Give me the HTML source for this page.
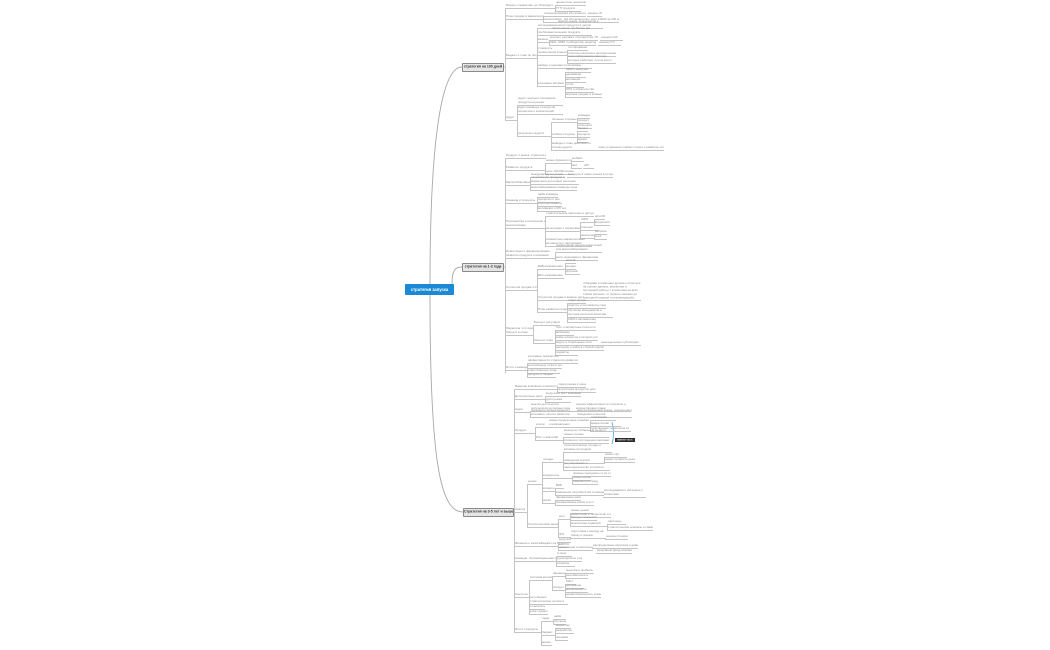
<!DOCTYPE html>
<html><head><meta charset="utf-8"><style>
html,body{margin:0;padding:0;background:#fff;width:1050px;height:650px;overflow:hidden;position:relative;font-family:"Liberation Sans",sans-serif}
i{position:absolute;height:4px;border-bottom:1px solid #c4c4c4;font-style:normal;overflow:hidden;padding-left:1px;box-sizing:content-box}
i.t{height:8px}
s{display:block;text-decoration:none;font:6px/7.6px "Liberation Sans",sans-serif;color:#8a8a8a;white-space:nowrap;transform:scale(.5);transform-origin:0 0;width:200%}
i.t s{white-space:normal;line-height:7.8px}
b{position:absolute;width:1px;background:#c4c4c4}
.box{position:absolute;border:1px solid #8a8a8a;background:#e6e6e6;border-radius:1px;overflow:hidden}
.box s{font:bold 7px/12px "Liberation Sans",sans-serif;color:#333;text-align:center}
.root{position:absolute;left:405px;top:284px;width:49px;height:11px;background:#1b8ad6;border-radius:1px;overflow:hidden}
.root s{font:bold 8.4px/22px "Liberation Sans",sans-serif;color:#fff;text-align:center}
.blk{position:absolute;border-bottom:1px solid #c4c4c4;overflow:hidden}
.blk s{white-space:normal;line-height:7.2px}
</style></head><body>
<svg width="1050" height="650" style="position:absolute;left:0;top:0">
<g fill="none" stroke="#a8a8a8" stroke-width="0.9">
<path d="M430,284 C430,150 440,67 462,67"/>
<path d="M452,284 C452,270 455,267 462,267"/>
<path d="M430,295 C430,460 440,512 463,512"/>
<path d="M612,422 Q615,433 612,444" stroke="#5ab0e8"/>
</g>
<g stroke="#c4c4c4" stroke-width="1"><line x1="502" y1="67" x2="505" y2="67"/><line x1="502" y1="267" x2="505" y2="267"/><line x1="512" y1="512" x2="514" y2="512"/></g>
</svg>
<div class="root"><s>стратегия запуска</s></div>
<div class="box" style="left:462px;top:63px;width:40px;height:7px"><s>стратегия на 100 дней</s></div>
<div class="box" style="left:462px;top:263px;width:40px;height:7px"><s>стратегия на 1-3 года</s></div>
<div class="box" style="left:463px;top:508px;width:49px;height:7px"><s>Стратегия на 3-5 лет и выше</s></div>
<div style="position:absolute;left:615px;top:438px;width:20px;height:4px;background:#2b2b2b;overflow:hidden"><s style="color:#fff;font-size:5px;line-height:8px;text-align:center">важная часть</s></div>

<!-- BRANCH 1 -->
<b style="left:505px;top:8px;height:113px"></b>
<i style="left:505px;top:4px;width:36px"><s>Бизнес и маркетинг до 100 дней</s></i>
<i style="left:541px;top:4px;width:14px"><s>продукт</s></i>
<b style="left:555px;top:5px;height:7px"></b>
<i style="left:555px;top:1px;width:30px"><s>ценностное предложение</s></i>
<i style="left:555px;top:7px;width:25px"><s>УТП продукта</s></i>
<i style="left:505px;top:15px;width:38px"><s>План продаж и маркетинговый план</s></i>
<b style="left:543px;top:16px;height:7px"></b>
<i style="left:543px;top:12px;width:20px"><s>позиционирование</s></i>
<i style="left:563px;top:12px;width:22px"><s>ЦА 20 сегментов</s></i>
<i style="left:587px;top:12px;width:14px"><s>каналы 30</s></i>
<i style="left:543px;top:18px;width:20px"><s>сегментация</s></i>
<i style="left:563px;top:18px;width:26px"><s>ЦА 30 сегментов клиентов</s></i>
<i style="left:590px;top:18px;width:28px"><s>рост 10000 за 100 дней</s></i>
<i style="left:505px;top:54px;width:32px"><s>Бюджет и план по продажам</s></i>
<b style="left:537px;top:28px;height:59px"></b>
<i style="left:537px;top:24px;width:20px"><s>исследование</s></i>
<i class="t" style="left:557px;top:20px;width:45px"><s>анализ рынка, конкурентов и ниши продукта в целом</s></i>
<i style="left:537px;top:31px;width:14px"><s>проблемы</s></i>
<i class="t" style="left:551px;top:27px;width:40px"><s>обоснование проблемы ЦА и решения продукта</s></i>
<i style="left:537px;top:38px;width:12px"><s>каналы</s></i>
<b style="left:549px;top:40px;height:6px"></b>
<i style="left:549px;top:36px;width:48px"><s>контент, реклама, партнерства, PR, email</s></i>
<i style="left:600px;top:36px;width:22px"><s>оценка CAC</s></i>
<i style="left:549px;top:41px;width:46px"><s>SEO, SMM, сообщества, мероприятия</s></i>
<i style="left:598px;top:41px;width:22px"><s>оценка LTV</s></i>
<i class="t" style="left:537px;top:47px;width:30px"><s>стоимость привлечения клиента и бюджет</s></i>
<b style="left:567px;top:50px;height:14px"></b>
<i style="left:567px;top:46px;width:20px"><s>тестирование</s></i>
<i style="left:567px;top:52px;width:48px"><s>гипотезы каналов и метрики конверсии</s></i>
<i class="t" style="left:567px;top:55px;width:48px"><s>масштабирование каналов, которые работают лучше всего</s></i>
<i style="left:537px;top:64px;width:32px"><s>оффер и ценовая политика</s></i>
<i style="left:569px;top:64px;width:22px"><s>тарифы</s></i>
<i style="left:537px;top:82px;width:28px"><s>ключевые метрики</s></i>
<b style="left:565px;top:72px;height:26px"></b>
<i style="left:565px;top:68px;width:25px"><s>MRR и выручка</s></i>
<i style="left:565px;top:73px;width:20px"><s>удержание</s></i>
<i style="left:565px;top:78px;width:20px"><s>активация</s></i>
<i style="left:565px;top:83px;width:18px"><s>отток</s></i>
<i style="left:565px;top:88px;width:28px"><s>NPS и обратная связь</s></i>
<i style="left:565px;top:93px;width:36px"><s>воронка продаж и конверсия</s></i>
<i style="left:505px;top:116px;width:12px"><s>Аудит</s></i>
<b style="left:517px;top:105px;height:32px"></b>
<i class="t" style="left:517px;top:97px;width:45px"><s>аудит текущего положения продукта на рынке</s></i>
<i class="t" style="left:517px;top:106px;width:45px"><s>аудит команды и ресурсов, процессов и компетенций</s></i>
<i style="left:517px;top:132px;width:34px"><s>результаты аудита</s></i>
<b style="left:551px;top:122px;height:29px"></b>
<i style="left:551px;top:118px;width:26px"><s>сильные стороны</s></i>
<b style="left:577px;top:118px;height:11px"></b>
<i style="left:577px;top:114px;width:12px"><s>команда</s></i>
<i style="left:577px;top:119px;width:12px"><s>продукт</s></i>
<i style="left:577px;top:124px;width:14px"><s>технология</s></i>
<i style="left:551px;top:133px;width:26px"><s>слабые стороны</s></i>
<b style="left:577px;top:131px;height:12px"></b>
<i style="left:577px;top:127px;width:10px"><s>бюджет</s></i>
<i style="left:577px;top:133px;width:12px"><s>процессы</s></i>
<i style="left:577px;top:138px;width:10px"><s>время</s></i>
<i class="t" style="left:551px;top:142px;width:46px"><s>выводы и план действий по итогам аудита</s></i>
<i style="left:597px;top:146px;width:66px"><s>план устранения слабых сторон и развитие сильных</s></i>

<!-- BRANCH 2 -->
<b style="left:505px;top:158px;height:215px"></b>
<i style="left:505px;top:154px;width:40px"><s>Продукт и рынок: стратегия роста</s></i>
<i style="left:505px;top:166px;width:40px"><s>Развитие продукта</s></i>
<b style="left:545px;top:163px;height:12px"></b>
<i style="left:545px;top:159px;width:26px"><s>новые функции продукта</s></i>
<b style="left:571px;top:161px;height:8px"></b>
<i style="left:571px;top:157px;width:12px"><s>мобайл</s></i>
<i style="left:571px;top:164px;width:10px"><s>веб</s></i>
<i style="left:583px;top:164px;width:10px"><s>API</s></i>
<i style="left:545px;top:170px;width:28px"><s>цель 100 000 клиентов</s></i>
<i style="left:505px;top:181px;width:25px"><s>Масштабирование</s></i>
<b style="left:530px;top:177px;height:14px"></b>
<i style="left:530px;top:173px;width:34px"><s>международные рынки</s></i>
<i style="left:567px;top:173px;width:45px"><s>выход на 3 новых рынка в течение года</s></i>
<i class="t" style="left:530px;top:176px;width:48px"><s>локализация продукта и маркетинга для новых регионов</s></i>
<i style="left:530px;top:186px;width:46px"><s>масштабирование команды продаж и поддержки</s></i>
<i style="left:505px;top:199px;width:32px"><s>Команда и процессы</s></i>
<b style="left:537px;top:197px;height:15px"></b>
<i style="left:537px;top:193px;width:20px"><s>найм команды</s></i>
<i style="left:537px;top:198px;width:22px"><s>процессы и регламенты</s></i>
<i style="left:537px;top:202px;width:24px"><s>корпоративная культура</s></i>
<i style="left:537px;top:207px;width:28px"><s>мотивация и KPI команды</s></i>
<i class="t" style="left:505px;top:220px;width:40px"><s>Партнерства и интеграции с экосистемами</s></i>
<b style="left:545px;top:216px;height:31px"></b>
<i style="left:545px;top:212px;width:48px"><s>стратегические партнеры и дистрибуция продукта</s></i>
<i style="left:545px;top:227px;width:35px"><s>интеграции с сервисами</s></i>
<b style="left:580px;top:222px;height:17px"></b>
<i style="left:580px;top:218px;width:14px"><s>CRM</s></i>
<b style="left:594px;top:219px;height:7px"></b>
<i style="left:594px;top:215px;width:10px"><s>amoCRM</s></i>
<i style="left:594px;top:221px;width:15px"><s>Битрикс24</s></i>
<i style="left:580px;top:226px;width:18px"><s>платежи</s></i>
<i style="left:580px;top:234px;width:14px"><s>аналитика</s></i>
<b style="left:594px;top:234px;height:6px"></b>
<i style="left:594px;top:230px;width:12px"><s>метрика</s></i>
<i style="left:594px;top:235px;width:12px"><s>GA4</s></i>
<i class="t" style="left:545px;top:238px;width:46px"><s>совместные маркетинговые активности с партнерами</s></i>
<i class="t" style="left:505px;top:250px;width:50px"><s>Инвестиции и финансирование развития продукта и компании</s></i>
<b style="left:555px;top:252px;height:9px"></b>
<i class="t" style="left:555px;top:244px;width:46px"><s>привлечение раунда инвестиций для масштабирования</s></i>
<i style="left:555px;top:256px;width:42px"><s>юнит-экономика и финансовая модель</s></i>
<i style="left:505px;top:286px;width:32px"><s>Стратегия продаж 1-3 года</s></i>
<b style="left:537px;top:269px;height:44px"></b>
<i style="left:537px;top:265px;width:28px"><s>B2B направление</s></i>
<b style="left:565px;top:263px;height:12px"></b>
<i style="left:565px;top:259px;width:10px"><s>малый</s></i>
<i style="left:565px;top:265px;width:10px"><s>средний</s></i>
<i style="left:565px;top:270px;width:14px"><s>крупный</s></i>
<i style="left:537px;top:274px;width:26px"><s>B2C направление</s></i>
<i style="left:537px;top:296px;width:46px"><s>Стратегия продаж и каналы дистрибуции</s></i>
<div class="blk" style="left:583px;top:282px;width:58px;height:18px"><s>«Продажи в компании должны строиться на основе данных, аналитики и системной работы с клиентами на всех этапах воронки, от первого касания до повторной покупки и рекомендаций»</s></div>
<i style="left:537px;top:308px;width:30px"><s>План развития продаж</s></i>
<b style="left:567px;top:303px;height:20px"></b>
<i style="left:567px;top:299px;width:18px"><s>отдел продаж</s></i>
<i style="left:567px;top:304px;width:38px"><s>скрипты и регламенты продаж</s></i>
<i class="t" style="left:567px;top:309px;width:45px"><s>обучение менеджеров и система контроля качества продаж</s></i>
<i style="left:567px;top:318px;width:28px"><s>CRM и автоматизация</s></i>
<i class="t" style="left:505px;top:327px;width:28px"><s>Маркетинг 1-3 года: бренд и контент</s></i>
<b style="left:533px;top:325px;height:19px"></b>
<i style="left:533px;top:321px;width:26px"><s>Бренд и репутация</s></i>
<i style="left:533px;top:339px;width:22px"><s>Контент-план</s></i>
<b style="left:555px;top:330px;height:26px"></b>
<i style="left:555px;top:326px;width:40px"><s>блог и экспертные статьи по теме</s></i>
<i style="left:555px;top:331px;width:18px"><s>вебинары</s></i>
<i style="left:555px;top:336px;width:42px"><s>кейсы клиентов и истории успеха</s></i>
<i style="left:555px;top:341px;width:45px"><s>видео и социальные сети</s></i>
<i style="left:600px;top:341px;width:40px"><s>еженедельные публикации</s></i>
<i style="left:555px;top:346px;width:48px"><s>рассылки и работа с базой подписчиков</s></i>
<i style="left:555px;top:351px;width:22px"><s>подкасты</s></i>
<i style="left:505px;top:366px;width:22px"><s>Итоги и выводы</s></i>
<b style="left:527px;top:363px;height:15px"></b>
<i class="t" style="left:527px;top:355px;width:50px"><s>ключевые показатели эффективности стратегии развития</s></i>
<i style="left:527px;top:364px;width:34px"><s>контрольные точки и сроки</s></i>
<i style="left:527px;top:369px;width:32px"><s>ответственные лица</s></i>
<i style="left:527px;top:373px;width:28px"><s>ресурсы и бюджет</s></i>

<!-- BRANCH 3 -->
<b style="left:514px;top:389px;height:244px"></b>
<i style="left:514px;top:385px;width:43px"><s>Видение компании и миссия продукта</s></i>
<b style="left:557px;top:387px;height:6px"></b>
<i style="left:557px;top:383px;width:28px"><s>лидер рынка в нише</s></i>
<i style="left:557px;top:388px;width:38px"><s>экосистема продуктов для клиентов</s></i>
<i style="left:514px;top:395px;width:31px"><s>Долгосрочные цели</s></i>
<b style="left:545px;top:396px;height:7px"></b>
<i style="left:545px;top:392px;width:35px"><s>выручка и рост компании</s></i>
<i style="left:545px;top:398px;width:25px"><s>доля рынка</s></i>
<i style="left:514px;top:408px;width:16px"><s>Аудит</s></i>
<b style="left:530px;top:411px;height:7px"></b>
<i class="t" style="left:530px;top:403px;width:45px"><s>анализ достигнутых результатов за первые годы работы</s></i>
<i class="t" style="left:575px;top:403px;width:55px"><s>оценка эффективности стратегии и корректировка плана</s></i>
<i class="t" style="left:530px;top:409px;width:46px"><s>пересмотр бизнес-модели и ключевых гипотез развития</s></i>
<i class="t" style="left:576px;top:409px;width:55px"><s>анализ изменений рынка, технологий и поведения клиентов</s></i>
<i style="left:514px;top:429px;width:21px"><s>Продукт</s></i>
<b style="left:535px;top:427px;height:14px"></b>
<i style="left:535px;top:423px;width:13px"><s>ключи</s></i>
<i class="t" style="left:548px;top:419px;width:42px"><s>новые продуктовые линейки и направления</s></i>
<b style="left:590px;top:420px;height:12px"></b>
<i style="left:590px;top:416px;width:25px"><s>платформа</s></i>
<i style="left:590px;top:422px;width:30px"><s>маркетплейс</s></i>
<i style="left:590px;top:427px;width:40px"><s>собственная технология AI</s></i>
<i style="left:535px;top:436px;width:28px"><s>Рост и масштаб</s></i>
<b style="left:563px;top:437px;height:7px"></b>
<i class="t" style="left:563px;top:429px;width:45px"><s>выход на глобальный рынок и новые страны</s></i>
<i style="left:563px;top:439px;width:45px"><s>слияния и поглощения компаний</s></i>
<i style="left:514px;top:508px;width:13px"><s>Анализ</s></i>
<b style="left:527px;top:484px;height:44px"></b>
<i style="left:527px;top:480px;width:15px"><s>рынок</s></i>
<b style="left:542px;top:462px;height:42px"></b>
<i style="left:542px;top:458px;width:21px"><s>тренды</s></i>
<b style="left:563px;top:452px;height:19px"></b>
<i class="t" style="left:563px;top:444px;width:48px"><s>технологические тренды и влияние на продукт</s></i>
<i style="left:563px;top:459px;width:41px"><s>изменения спроса</s></i>
<b style="left:604px;top:457px;height:6px"></b>
<i style="left:604px;top:453px;width:22px"><s>новые ЦА</s></i>
<i style="left:604px;top:458px;width:30px"><s>новые сегменты рынка</s></i>
<i class="t" style="left:563px;top:462px;width:46px"><s>регулирование и законодательство в отрасли</s></i>
<i style="left:542px;top:474px;width:30px"><s>конкуренты</s></i>
<b style="left:572px;top:476px;height:9px"></b>
<i style="left:572px;top:472px;width:38px"><s>прямые конкуренты и их стратегии</s></i>
<i style="left:572px;top:476px;width:18px"><s>новые игроки</s></i>
<i style="left:572px;top:480px;width:25px"><s>заменители продукта</s></i>
<i style="left:542px;top:487px;width:13px"><s>клиенты</s></i>
<b style="left:555px;top:488px;height:8px"></b>
<i style="left:555px;top:484px;width:8px"><s>B2B</s></i>
<i style="left:555px;top:491px;width:48px"><s>изменения потребностей и поведения клиентов</s></i>
<i class="t" style="left:603px;top:489px;width:42px"><s>исследования и интервью с клиентами</s></i>
<i style="left:542px;top:499px;width:13px"><s>риски</s></i>
<b style="left:555px;top:500px;height:6px"></b>
<i style="left:555px;top:496px;width:25px"><s>финансовые риски</s></i>
<i style="left:555px;top:501px;width:38px"><s>операционные риски и их снижение</s></i>
<i style="left:527px;top:523px;width:31px"><s>Стратегические инициативы</s></i>
<b style="left:558px;top:519px;height:19px"></b>
<i style="left:558px;top:515px;width:12px"><s>рост</s></i>
<b style="left:570px;top:513px;height:14px"></b>
<i style="left:570px;top:509px;width:22px"><s>новые рынки</s></i>
<i style="left:570px;top:513px;width:40px"><s>инвестиции в технологии и инфраструктуру</s></i>
<i style="left:570px;top:516px;width:26px"><s>бренд и лояльность</s></i>
<i style="left:570px;top:522px;width:37px"><s>экосистема сервисов</s></i>
<b style="left:607px;top:524px;height:7px"></b>
<i style="left:607px;top:520px;width:18px"><s>партнеры</s></i>
<i style="left:607px;top:526px;width:45px"><s>стратегические альянсы и совместные проекты</s></i>
<i style="left:558px;top:533px;width:12px"><s>IPO</s></i>
<i class="t" style="left:570px;top:530px;width:35px"><s>подготовка к выходу на биржу и оценка компании</s></i>
<i style="left:605px;top:535px;width:22px"><s>оценка стоимости</s></i>
<i style="left:514px;top:542px;width:26px"><s>Финансы и капитал</s></i>
<i style="left:540px;top:542px;width:18px"><s>Бюджет на 5 лет</s></i>
<b style="left:558px;top:542px;height:9px"></b>
<i style="left:558px;top:538px;width:12px"><s>выручка</s></i>
<i style="left:558px;top:543px;width:10px"><s>EBITDA</s></i>
<i style="left:558px;top:546px;width:34px"><s>инвестиции и капитальные затраты</s></i>
<i style="left:592px;top:544px;width:45px"><s>распределение капитала и дивиденды</s></i>
<i style="left:596px;top:549px;width:35px"><s>резервный фонд компании</s></i>
<i style="left:514px;top:557px;width:14px"><s>Команда</s></i>
<i style="left:528px;top:557px;width:28px"><s>Организационная структура</s></i>
<b style="left:556px;top:556px;height:11px"></b>
<i style="left:556px;top:552px;width:15px"><s>C-level</s></i>
<i style="left:556px;top:557px;width:25px"><s>руководители отделов</s></i>
<i style="left:556px;top:562px;width:18px"><s>опционы</s></i>
<i style="left:514px;top:593px;width:15px"><s>Контроль</s></i>
<b style="left:529px;top:580px;height:35px"></b>
<i style="left:529px;top:576px;width:23px"><s>Система метрик</s></i>
<b style="left:552px;top:576px;height:15px"></b>
<i style="left:552px;top:572px;width:13px"><s>финансы</s></i>
<b style="left:565px;top:573px;height:6px"></b>
<i style="left:565px;top:569px;width:28px"><s>выручка и прибыль</s></i>
<i style="left:565px;top:574px;width:22px"><s>рентабельность</s></i>
<i style="left:552px;top:586px;width:13px"><s>продукт</s></i>
<b style="left:565px;top:584px;height:14px"></b>
<i style="left:565px;top:580px;width:10px"><s>MAU</s></i>
<i style="left:565px;top:584px;width:18px"><s>удержание</s></i>
<i style="left:565px;top:588px;width:22px"><s>вовлеченность</s></i>
<i style="left:565px;top:593px;width:35px"><s>удовлетворенность клиентов</s></i>
<i class="t" style="left:529px;top:596px;width:38px"><s>регулярные стратегические сессии и пересмотр целей</s></i>
<i style="left:529px;top:605px;width:15px"><s>отчетность</s></i>
<i style="left:529px;top:610px;width:18px"><s>совет директоров</s></i>
<i style="left:514px;top:628px;width:27px"><s>Итоги и ресурсы</s></i>
<b style="left:541px;top:621px;height:25px"></b>
<i style="left:541px;top:617px;width:12px"><s>люди</s></i>
<b style="left:553px;top:619px;height:6px"></b>
<i style="left:553px;top:615px;width:12px"><s>найм</s></i>
<i style="left:553px;top:620px;width:12px"><s>обучение</s></i>
<i style="left:541px;top:631px;width:14px"><s>бюджет</s></i>
<b style="left:555px;top:628px;height:13px"></b>
<i style="left:555px;top:624px;width:15px"><s>маркетинг</s></i>
<i style="left:555px;top:629px;width:18px"><s>разработка</s></i>
<i style="left:555px;top:636px;width:12px"><s>продажи</s></i>
<i style="left:541px;top:641px;width:10px"><s>время</s></i>
</body></html>
